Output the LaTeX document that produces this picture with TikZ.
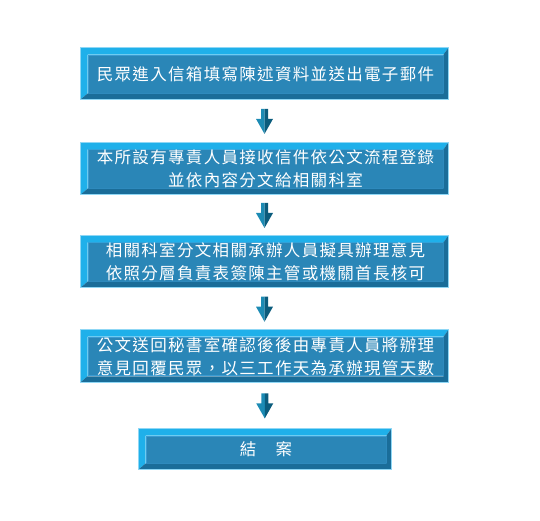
\documentclass[tikz,border=0pt]{standalone}
\usepackage{fontspec}
\usepackage{tikz}
\usetikzlibrary{calc}
\newfontfamily\tcfont[LetterSpace=8]{Noto Sans CJK TC}
\definecolor{boxface}{HTML}{2A86B7}
\definecolor{bevellight}{HTML}{1FB0EA}
\definecolor{bevelinner}{HTML}{3A9BD2}
\definecolor{beveldark}{HTML}{1A6D99}
\definecolor{arrowlight}{HTML}{1C8BB4}
\definecolor{arrowdark}{HTML}{0B5C7D}
\tikzset{
  stage/.style={fill=boxface,draw=bevelinner,line width=1pt,text=white,align=center,inner sep=0pt,
    minimum width=355pt,minimum height=38pt,font=\tcfont\fontsize{16.5}{23}\selectfont},
}
\newcommand{\bevel}[1]{
  \fill[bevellight] ($(#1.south west)+(-7,6)$) -- ($(#1.north west)+(-7,-7)$) -- ($(#1.north east)+(5,-7)$)
    -- (#1.north east) -- (#1.north west) -- (#1.south west) -- cycle;
  \fill[beveldark] ($(#1.south west)+(-7,6)$) -- ($(#1.south east)+(5,6)$) -- ($(#1.north east)+(5,-7)$)
    -- (#1.north east) -- (#1.south east) -- (#1.south west) -- cycle;
  \draw[bevellight!50!white,line width=0.6pt] ($(#1.south west)+(-7,6)$) rectangle ($(#1.north east)+(5,-7)$);
}
\newcommand{\flowarrow}[2]{
  \coordinate (m) at ($(#1.south)!0.5!(#2.north)+(-1,0)$);
  \fill[arrowlight,shift={(m)}] (0,-12.5) -- (-3.5,-12.5) -- (-3.5,-2.5) -- (-8.5,-2.5) -- (0,12.5) -- cycle;
  \fill[arrowdark,shift={(m)}] (0,-12.5) -- (3.5,-12.5) -- (3.5,-2.5) -- (8.5,-2.5) -- (0,12.5) -- cycle;
}

\begin{document}
\begin{tikzpicture}[x=1pt,y=-1pt]
    \useasboundingbox (0,0) rectangle (540,520);
    \node[stage] (mail) at (265.5,74) {民眾進入信箱填寫陳述資料並送出電子郵件};
    \node[stage] (register) at (265.5,169) {本所設有專責人員接收信件依公文流程登錄\\並依內容分文給相關科室};
    \node[stage] (opinion) at (265.5,262) {相關科室分文相關承辦人員擬具辦理意見\\依照分層負責表簽陳主管或機關首長核可};
    \node[stage] (reply) at (265.5,356.5) {公文送回秘書室確認後後由專責人員將辦理\\意見回覆民眾，以三工作天為承辦現管天數};
    \node[stage,minimum width=240pt,minimum height=27pt] (close) at (266,449.5) {結　案};
    \foreach \n in {mail,register,opinion,reply,close} {\bevel{\n}}
    \flowarrow{mail}{register}
    \flowarrow{register}{opinion}
    \flowarrow{opinion}{reply}
    \flowarrow{reply}{close}
  \end{tikzpicture}
\end{document}
